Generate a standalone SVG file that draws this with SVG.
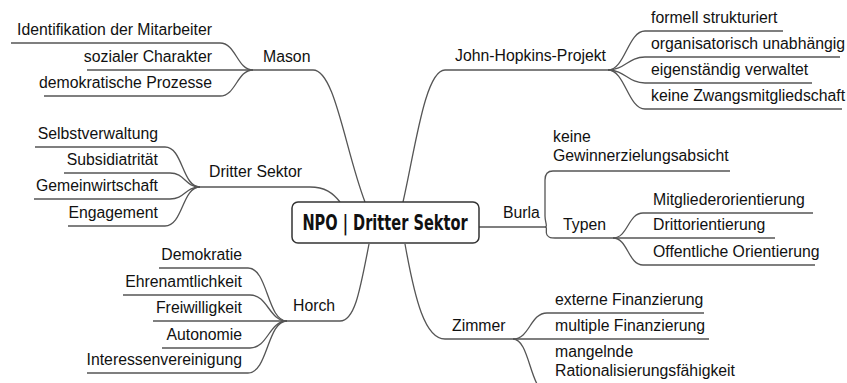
<svg xmlns="http://www.w3.org/2000/svg" width="847" height="383" viewBox="0 0 847 383">
<style>
.c{fill:none;stroke:#555;stroke-width:1.3}
text{font-family:"Liberation Sans",Arial,sans-serif;font-size:15.8px;fill:#111}
.e{text-anchor:end}
.root{font-family:"Liberation Sans Narrow","DejaVu Sans Condensed","Liberation Sans",sans-serif;font-weight:bold;font-size:22px;text-anchor:middle}
</style>
<rect width="847" height="383" fill="#fff"/>
<g id="connectors">
<path class="c" d="M11,43 L220,43 C236,43 237,70 253,70"/>
<path class="c" d="M87,70 L253,70"/>
<path class="c" d="M44,96 L220,96 C236,96 237,70 253,70"/>
<path class="c" d="M253,70 L313,70 C335,70 345,150 365,202"/>
<path class="c" d="M35,147 L165,147 C183,147 182,187 200,187"/>
<path class="c" d="M64,173 L170,173 C185,173 185,187 200,187"/>
<path class="c" d="M34,199 L170,199 C185,199 185,187 200,187"/>
<path class="c" d="M68,226 L165,226 C183,226 182,187 200,187"/>
<path class="c" d="M200,187 L310,187 C325,187 333,193 340,202"/>
<path class="c" d="M159,268 L248,268 C268,268 267,321 287,321"/>
<path class="c" d="M123,295 L250,295 C268,295 269,321 287,321"/>
<path class="c" d="M153,321 L287,321"/>
<path class="c" d="M162,348 L250,348 C268,348 269,321 287,321"/>
<path class="c" d="M87,373 L248,373 C268,373 267,321 287,321"/>
<path class="c" d="M287,321 L340,321 C355,321 360,290 369,244"/>
<path class="c" d="M403,202 C415,150 425,70 445,70 L608,70"/>
<path class="c" d="M608,70 C625,70 628,31 645,31 L783,31"/>
<path class="c" d="M608,70 C625,70 628,57 645,57 L840,57"/>
<path class="c" d="M608,70 C625,70 628,83 645,83 L812,83"/>
<path class="c" d="M608,70 C625,70 628,109 645,109 L842,109"/>
<path class="c" d="M479,227 L545,227"/>
<path class="c" d="M545,227 C548,227 545,222 545,216 L545,180 C545,175 547,171 553,171 L730,171"/>
<path class="c" d="M545,227 C548,227 545,232 547,235 C549,238 551,238 555,238 L613,238"/>
<path class="c" d="M613,238 C628,238 628,213 643,213 L813,213"/>
<path class="c" d="M613,238 L775,238"/>
<path class="c" d="M613,238 C628,238 628,265 643,265 L815,265"/>
<path class="c" d="M405,244 C415,300 425,339 445,339 L513,339"/>
<path class="c" d="M513,339 C530,339 530,313 547,313 L704,313"/>
<path class="c" d="M513,339 L709,339"/>
<path class="c" d="M513,339 C530,339 530,392 547,392 L740,392"/>
</g>
<g id="root">
<rect x="292" y="202" width="187" height="41" rx="6" fill="#fff" stroke="#333" stroke-width="1.5"/>
<text class="root" transform="translate(385,230) scale(0.7,1)" x="0" y="0" textLength="236" lengthAdjust="spacingAndGlyphs">NPO | Dritter Sektor</text>
</g>
<g id="mason"><text x="263" y="62">Mason</text></g>
<g id="mason-1"><text class="e" x="212" y="35">Identifikation der Mitarbeiter</text></g>
<g id="mason-2"><text class="e" x="212" y="62">sozialer Charakter</text></g>
<g id="mason-3"><text class="e" x="212" y="88">demokratische Prozesse</text></g>
<g id="dritter"><text x="209" y="177">Dritter Sektor</text></g>
<g id="dritter-1"><text class="e" x="158" y="139">Selbstverwaltung</text></g>
<g id="dritter-2"><text class="e" x="158" y="165">Subsidiatrität</text></g>
<g id="dritter-3"><text class="e" x="158" y="191">Gemeinwirtschaft</text></g>
<g id="dritter-4"><text class="e" x="158" y="218">Engagement</text></g>
<g id="horch"><text x="293" y="311">Horch</text></g>
<g id="horch-1"><text class="e" x="242" y="260">Demokratie</text></g>
<g id="horch-2"><text class="e" x="242" y="287">Ehrenamtlichkeit</text></g>
<g id="horch-3"><text class="e" x="242" y="313">Freiwilligkeit</text></g>
<g id="horch-4"><text class="e" x="242" y="340">Autonomie</text></g>
<g id="horch-5"><text class="e" x="242" y="365">Interessenvereinigung</text></g>
<g id="jhp"><text x="455" y="61">John-Hopkins-Projekt</text></g>
<g id="jhp-1"><text x="651" y="23">formell strukturiert</text></g>
<g id="jhp-2"><text x="651" y="49">organisatorisch unabhängig</text></g>
<g id="jhp-3"><text x="651" y="75">eigenständig verwaltet</text></g>
<g id="jhp-4"><text x="651" y="101">keine Zwangsmitgliedschaft</text></g>
<g id="burla"><text x="503" y="218">Burla</text></g>
<g id="burla-1"><text x="553" y="142">keine</text><text x="553" y="161">Gewinnerzielungsabsicht</text></g>
<g id="typen"><text x="563" y="230">Typen</text></g>
<g id="typen-1"><text x="653" y="205">Mitgliederorientierung</text></g>
<g id="typen-2"><text x="653" y="230">Drittorientierung</text></g>
<g id="typen-3"><text x="653" y="257">Offentliche Orientierung</text></g>
<g id="zimmer"><text x="452" y="331">Zimmer</text></g>
<g id="zimmer-1"><text x="555" y="305">externe Finanzierung</text></g>
<g id="zimmer-2"><text x="555" y="331">multiple Finanzierung</text></g>
<g id="zimmer-3"><text x="555" y="357">mangelnde</text><text x="555" y="376">Rationalisierungsfähigkeit</text></g>
</svg>
